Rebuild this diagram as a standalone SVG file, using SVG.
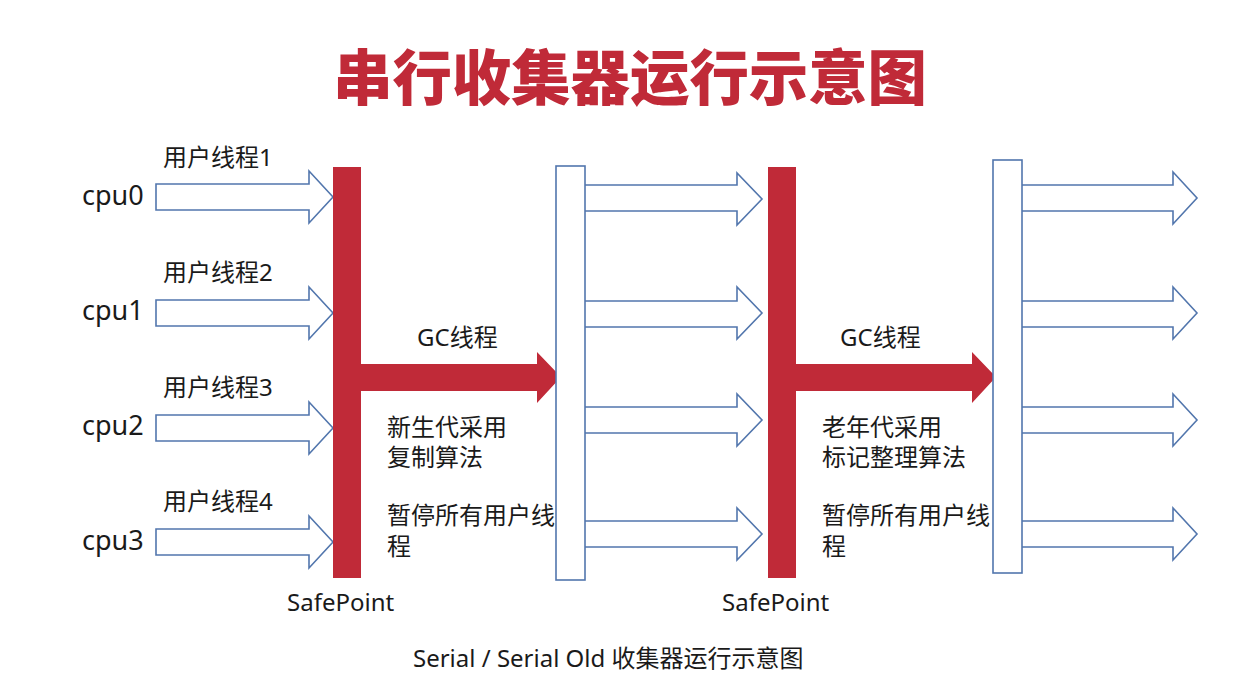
<svg xmlns="http://www.w3.org/2000/svg" width="1258" height="680" viewBox="0 0 1258 680">
<style>
.t{font-family:"Noto Sans","Noto Sans CJK SC",sans-serif;fill:#1a1a1a}
.cpu{font-size:27px}
.lbl{font-size:24px}
.title{font-family:"Noto Sans CJK SC",sans-serif;font-weight:900;font-size:60px;fill:#c02a38}
.red{fill:#c02a38}
.arr{fill:#fff;stroke:#5276ad;stroke-width:1.6;stroke-linejoin:miter}
.box{fill:#fff;stroke:#5276ad;stroke-width:1.6}
</style>
<rect width="1258" height="680" fill="#fff"/>
<g id="title"><text class="title" x="630" y="100" text-anchor="middle" textLength="594" lengthAdjust="spacingAndGlyphs">串行收集器运行示意图</text></g>

<g id="connectors">
  <!-- user threads into SafePoint 1 -->
  <path class="arr" d="M156,184 H309 V171 L333,197 L309,223 V210 H156 Z"/>
  <path class="arr" d="M156,300 H309 V287 L333,313 L309,339 V326 H156 Z"/>
  <path class="arr" d="M156,415 H309 V402 L333,428 L309,454 V441 H156 Z"/>
  <path class="arr" d="M156,529 H309 V516 L333,542 L309,568 V555 H156 Z"/>
  <!-- resumed threads after box 1 -->
  <path class="arr" d="M585,185 H737 V173 L762,199 L737,225 V211 H585"/>
  <path class="arr" d="M585,301 H737 V287 L762,313 L737,339 V327 H585"/>
  <path class="arr" d="M585,407 H737 V394 L762,420 L737,446 V433 H585"/>
  <path class="arr" d="M585,521 H737 V508 L762,534 L737,560 V547 H585"/>
  <!-- resumed threads after box 2 -->
  <path class="arr" d="M1020,185 H1173 V172 L1197,198 L1173,224 V211 H1020 Z"/>
  <path class="arr" d="M1020,301 H1173 V287 L1197,313 L1173,339 V327 H1020 Z"/>
  <path class="arr" d="M1020,407 H1173 V394 L1197,420 L1173,446 V433 H1020 Z"/>
  <path class="arr" d="M1020,521 H1173 V508 L1197,534 L1173,560 V547 H1020 Z"/>
</g>

<g id="safepoint1">
  <path class="red" d="M333,167 H361 V364 H537 V352 L561,377 L537,403 V391 H361 V578 H333 Z"/>
  <text class="t lbl" x="287" y="611">SafePoint</text>
</g>
<g id="box1"><rect class="box" x="556" y="166" width="29" height="414"/></g>

<g id="safepoint2">
  <path class="red" d="M768,167 H796 V364 H972 V352 L996,377 L972,403 V391 H796 V578 H768 Z"/>
  <text class="t lbl" x="722" y="611">SafePoint</text>
</g>
<g id="box2"><rect class="box" x="993" y="160" width="29" height="413"/></g>

<g id="cpus">
  <text class="t cpu" x="82" y="205">cpu0</text>
  <text class="t cpu" x="82" y="320">cpu1</text>
  <text class="t cpu" x="82" y="435">cpu2</text>
  <text class="t cpu" x="82" y="550">cpu3</text>
</g>
<g id="threads">
  <text class="t lbl" x="163" y="166">用户线程1</text>
  <text class="t lbl" x="163" y="281">用户线程2</text>
  <text class="t lbl" x="163" y="396">用户线程3</text>
  <text class="t lbl" x="163" y="510">用户线程4</text>
</g>
<g id="gc1">
  <text class="t lbl" x="417" y="346">GC线程</text>
  <text class="t lbl" x="387" y="436">新生代采用</text>
  <text class="t lbl" x="387" y="466">复制算法</text>
  <text class="t lbl" x="387" y="524">暂停所有用户线</text>
  <text class="t lbl" x="387" y="555">程</text>
</g>
<g id="gc2">
  <text class="t lbl" x="840" y="346">GC线程</text>
  <text class="t lbl" x="822" y="436">老年代采用</text>
  <text class="t lbl" x="822" y="466">标记整理算法</text>
  <text class="t lbl" x="822" y="524">暂停所有用户线</text>
  <text class="t lbl" x="822" y="555">程</text>
</g>
<g id="caption"><text class="t lbl" x="413" y="667">Serial / Serial Old 收集器运行示意图</text></g>
</svg>
